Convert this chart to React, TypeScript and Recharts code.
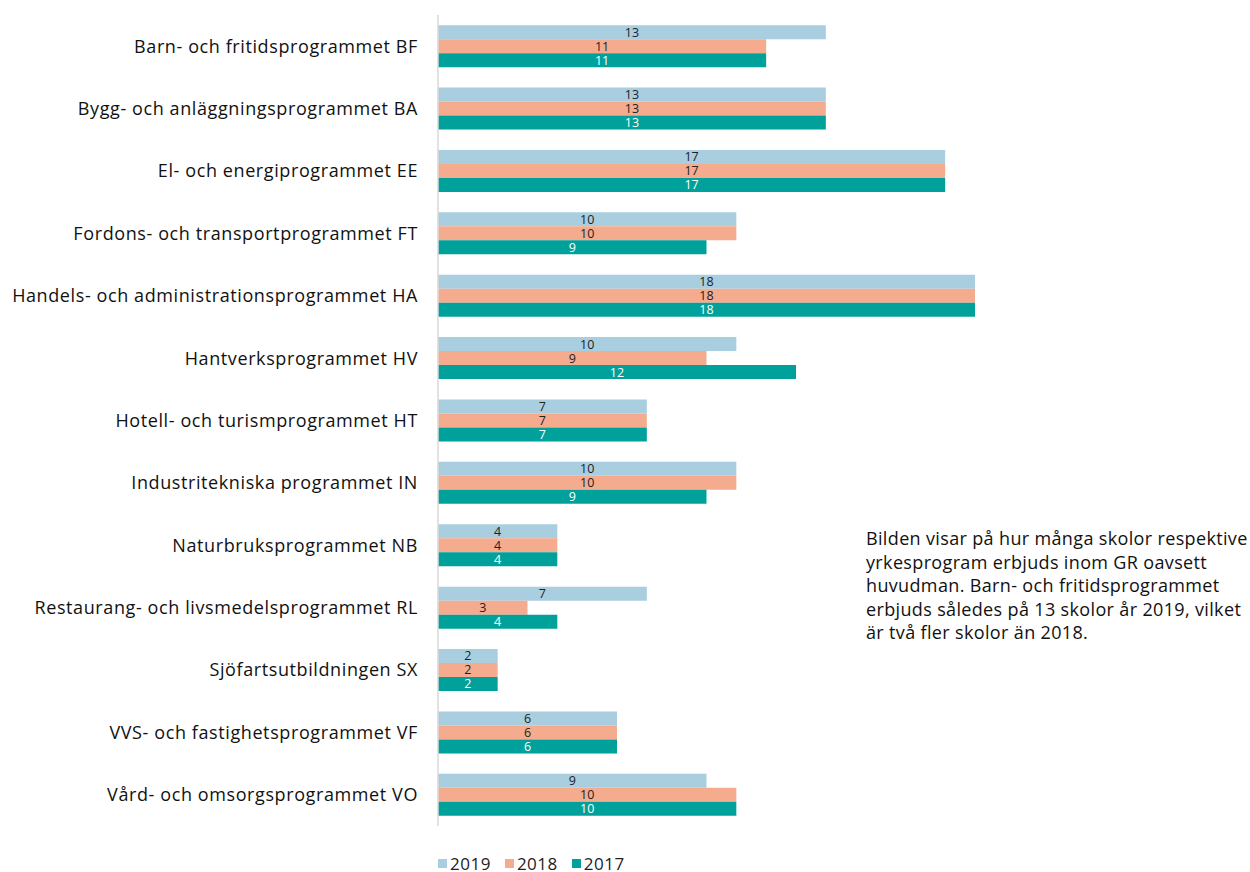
import React from 'react';
import { BarChart, Bar, XAxis, YAxis, Legend, LabelList } from 'recharts';

const programs = [
  'Barn- och fritidsprogrammet BF',
  'Bygg- och anläggningsprogrammet BA',
  'El- och energiprogrammet EE',
  'Fordons- och transportprogrammet FT',
  'Handels- och administrationsprogrammet HA',
  'Hantverksprogrammet HV',
  'Hotell- och turismprogrammet HT',
  'Industritekniska programmet IN',
  'Naturbruksprogrammet NB',
  'Restaurang- och livsmedelsprogrammet RL',
  'Sjöfartsutbildningen SX',
  'VVS- och fastighetsprogrammet VF',
  'Vård- och omsorgsprogrammet VO',
];

const y2019 = [13, 13, 17, 10, 18, 10, 7, 10, 4, 7, 2, 6, 9];
const y2018 = [11, 13, 17, 10, 18, 9, 7, 10, 4, 3, 2, 6, 10];
const y2017 = [11, 13, 17, 9, 18, 12, 7, 9, 4, 4, 2, 6, 10];

const series = [
  { key: '2019', color: '#a9cee0', label: '#222' },
  { key: '2018', color: '#f5ab8e', label: '#222' },
  { key: '2017', color: '#00a19a', label: '#fff' },
];

const noteLines = [
  'Bilden visar på hur många skolor respektive',
  'yrkesprogram erbjuds inom GR oavsett',
  'huvudman. Barn- och fritidsprogrammet',
  'erbjuds således på 13 skolor år 2019, vilket',
  'är två fler skolor än 2018.',
];

const FONT = '"Open Sans", "DejaVu Sans", sans-serif';

const data = programs.map((name, i) => ({
  name,
  '2019': y2019[i],
  '2018': y2018[i],
  '2017': y2017[i],
}));

const LegendContent = () => (
  <div
    style={{
      display: 'flex',
      gap: 14,
      fontFamily: FONT,
      fontSize: 17,
      lineHeight: '17px',
      letterSpacing: 0.5,
      color: '#222',
    }}
  >
    {series.map((s) => (
      <span key={s.key} style={{ display: 'flex', alignItems: 'center' }}>
        <span style={{ width: 9, height: 9, background: s.color, marginRight: 3 }} />
        {s.key}
      </span>
    ))}
  </div>
);

export default function App() {
  return (
    <div style={{ position: 'absolute', left: 0, top: 0, width: 1250, height: 872, background: '#fff' }}>
      <BarChart
        width={1250}
        height={872}
        data={data}
        layout="vertical"
        margin={{ top: 15, right: 275, left: 0, bottom: 29 }}
        barCategoryGap="16.3%"
        barGap={0}
      >
        <XAxis type="number" domain={[0, 18]} hide />
        <YAxis
          type="category"
          dataKey="name"
          width={438}
          tickLine={false}
          tickMargin={14}
          axisLine={{ stroke: '#d9d9d9', strokeWidth: 1.5 }}
          tick={{ fill: '#111', fontSize: 18, fontFamily: FONT, letterSpacing: 0.6 }}
          interval={0}
        />
        <Legend
          verticalAlign="bottom"
          content={<LegendContent />}
          wrapperStyle={{ left: 438, width: 'auto', bottom: 0 }}
        />
        {series.map((s) => (
          <Bar key={s.key} dataKey={s.key} fill={s.color} isAnimationActive={false}>
            <LabelList
              dataKey={s.key}
              position="center"
              fill={s.label}
              style={{ fontSize: 12.5, fontFamily: FONT }}
            />
          </Bar>
        ))}
      </BarChart>
      <div
        style={{
          position: 'absolute',
          left: 866,
          top: 527,
          fontFamily: FONT,
          fontSize: 18,
          lineHeight: '23.5px',
          letterSpacing: 0.35,
          whiteSpace: 'nowrap',
          color: '#111',
        }}
      >
        {noteLines.map((l) => (
          <div key={l}>{l}</div>
        ))}
      </div>
    </div>
  );
}
